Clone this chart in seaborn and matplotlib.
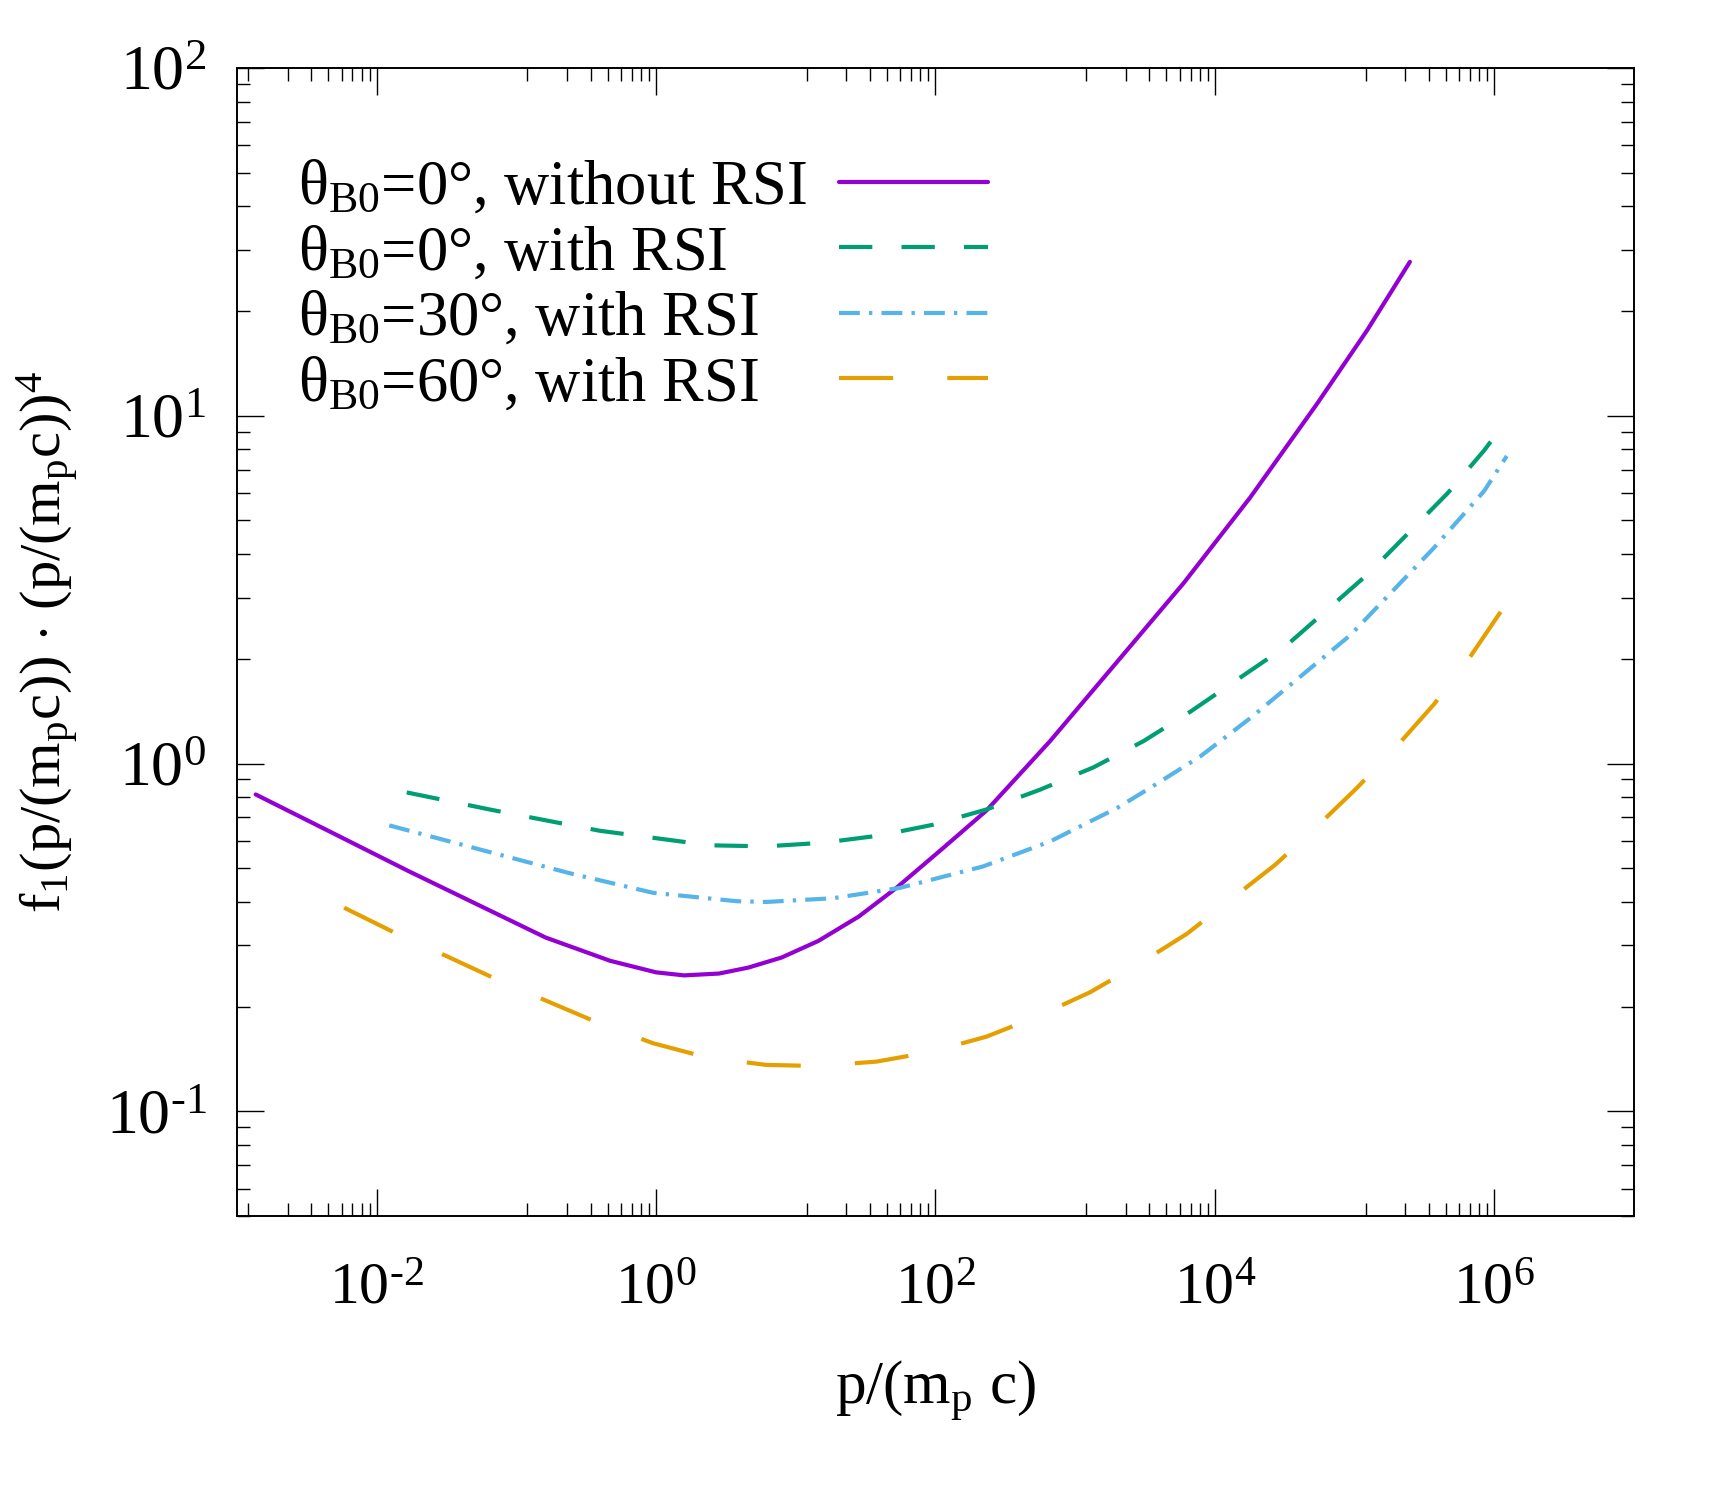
import numpy as np
import pandas as pd
import matplotlib
matplotlib.use("Agg")
import matplotlib.pyplot as plt
import matplotlib.ticker as mticker
import seaborn as sns

# curves (x = p/(m_p c), y = f1 * (p/(m_p c))^4)
x_norsi0 = [1.36e-3, 5.13e-3, 0.0170, 0.0564, 0.162, 0.468, 1.0, 1.585, 2.82, 4.57,
            7.94, 14.5, 28.2, 52.5, 112, 232, 661, 1995, 5970, 1.79e4, 5.37e4,
            1.23e5, 2.49e5]
y_norsi0 = [0.815, 0.624, 0.490, 0.388, 0.316, 0.271, 0.251, 0.246, 0.249, 0.259,
            0.277, 0.309, 0.363, 0.439, 0.569, 0.733, 1.16, 1.96, 3.30, 5.82, 10.8,
            17.6, 27.7]

x_rsi0 = [0.0164, 0.0641, 0.394, 2.43, 6.15, 15.7, 39.9, 96.2, 232, 560, 1352,
          3083, 6683, 3.11e4, 1.26e5, 4.66e5, 8.45e5, 1.23e6]
y_rsi0 = [0.826, 0.738, 0.641, 0.582, 0.578, 0.592, 0.621, 0.667, 0.738, 0.841, 0.975,
          1.16, 1.41, 2.15, 3.52, 6.0, 7.94, 9.70]

x_rsi30 = [0.0123, 0.0607, 0.240, 0.951, 3.77, 6.15, 18.5, 55.5, 219, 661, 1995,
           3440, 7907, 1.79e4, 9.33e4, 3.70e5, 8.45e5, 1.23e6]
y_rsi30 = [0.664, 0.560, 0.484, 0.425, 0.402, 0.400, 0.410, 0.439, 0.506, 0.597, 0.745,
           0.851, 1.05, 1.35, 2.34, 4.17, 6.07, 7.66]

x_rsi60 = [5.85e-3, 0.0133, 0.0313, 0.0716, 0.173, 0.394, 0.951, 2.29, 6.15, 14.4,
           37.8, 91.2, 232, 530, 1279, 2761, 6310, 2.71e4, 5.25e4, 1.04e5, 1.96e5,
           3.70e5, 6.41e5, 1.23e6]
y_rsi60 = [0.385, 0.327, 0.280, 0.240, 0.206, 0.179, 0.157, 0.143, 0.136, 0.135,
           0.139, 0.148, 0.164, 0.187, 0.220, 0.263, 0.324, 0.512, 0.653, 0.851, 1.11,
           1.48, 1.97, 2.90]

labels = [r"$\mathrm{\theta_{B0}}$=0°, without RSI",
          r"$\mathrm{\theta_{B0}}$=0°, with RSI",
          r"$\mathrm{\theta_{B0}}$=30°, with RSI",
          r"$\mathrm{\theta_{B0}}$=60°, with RSI"]
colors = ["#9400D3", "#009E73", "#56B4E9", "#E69F00"]
styles = ["-", (0, (8, 7)), (0, (5, 2.2, 0.8, 2.2)), (0, (13, 13))]

sns.set_style("ticks")
plt.rcParams["font.family"] = ["Liberation Serif", "DejaVu Serif"]
plt.rcParams["mathtext.fontset"] = "custom"
plt.rcParams["mathtext.rm"] = "Liberation Serif"
plt.rcParams["mathtext.it"] = "Liberation Serif:italic"
for k in ["text.color", "axes.labelcolor", "xtick.color", "ytick.color", "axes.edgecolor"]:
    plt.rcParams[k] = "black"

fig = plt.figure(figsize=(17.25, 15), dpi=100)
ax = fig.add_axes([0.1374, 0.1893, 0.8098, 0.7654])

series = [(x_norsi0, y_norsi0), (x_rsi0, y_rsi0), (x_rsi30, y_rsi30), (x_rsi60, y_rsi60)]
for (xs, ys), lab, c, ls in zip(series, labels, colors, styles):
    df = pd.DataFrame({"p": xs, "f": ys})
    sns.lineplot(data=df, x="p", y="f", ax=ax, color=c, lw=3, linestyle=ls,
                 label=lab, sort=False, estimator=None)

ax.set_xscale("log")
ax.set_yscale("log")
ax.set_xlim(1e-3, 1e7)
ax.set_ylim(0.05, 100)

# major ticks every two decades, minor ticks gnuplot style
ax.xaxis.set_major_locator(mticker.FixedLocator([1e-2, 1e0, 1e2, 1e4, 1e6]))
minors = [10.0 ** (2 * n) * (1 + 11 * k) for n in range(-2, 4) for k in range(1, 9)]
ax.xaxis.set_minor_locator(mticker.FixedLocator(minors))
ax.yaxis.set_major_locator(mticker.FixedLocator([0.1, 1, 10, 100]))
ax.yaxis.set_minor_locator(mticker.LogLocator(base=10, subs=np.arange(2, 10), numticks=20))

fmt = mticker.FuncFormatter(lambda v, pos: r"10$^{\text{%d}}$" % round(np.log10(v)))
ax.xaxis.set_major_formatter(fmt)
ax.yaxis.set_major_formatter(fmt)
ax.xaxis.set_minor_formatter(mticker.NullFormatter())
ax.yaxis.set_minor_formatter(mticker.NullFormatter())

ax.tick_params(which="both", direction="in", top=True, right=True, width=1.0, color="black")
ax.tick_params(which="major", length=19.5)
ax.tick_params(which="minor", length=9.5)
ax.tick_params(axis="x", which="major", pad=34, labelsize=43)
ax.tick_params(axis="y", which="major", pad=22, labelsize=46)
for sp in ax.spines.values():
    sp.set_linewidth(1.4)

ax.set_xlabel(r"p/(m$_\mathrm{p}$ c)", fontsize=44, labelpad=30)
ax.set_ylabel(r"f$_\mathrm{1}$(p/(m$_\mathrm{p}$c)) $\cdot$ (p/(m$_\mathrm{p}$c))$^\mathrm{4}$",
              fontsize=42, labelpad=18)

leg = ax.legend(loc="upper left", bbox_to_anchor=(0.044, 0.92), frameon=False, markerfirst=False,
                handlelength=2.38, handletextpad=0.5, labelspacing=0.12, borderpad=0,
                borderaxespad=0, fontsize=45)

# left-justify the key texts while keeping the samples in one column
fig.canvas.draw()
renderer = fig.canvas.get_renderer()
rows = [r for col in leg._legend_handle_box.get_children() for r in col.get_children()]
wmax = max(r.get_bbox(renderer).width for r in rows)
for r in rows:
    r.mode = "expand"
    r.width = wmax

fig.savefig("out.png", dpi=100)
